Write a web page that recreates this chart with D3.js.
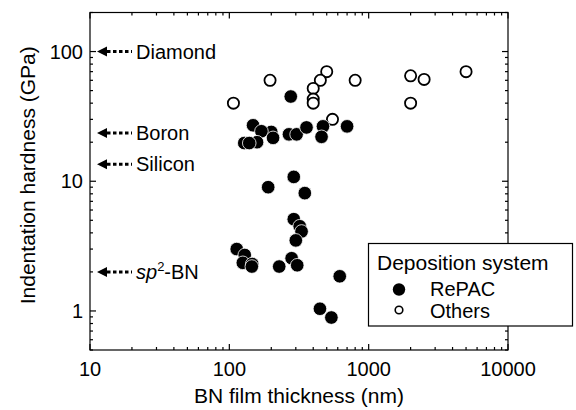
<!DOCTYPE html>
<html lang="en">
  <head>
    <meta charset="UTF-8" />
    <title>BN film hardness vs thickness</title>
    <script src="https://d3js.org/d3.v7.min.js"></script>
    <style>
      body { margin: 0; background: #fff; }
      text { font-family: 'Liberation Sans', Arial, sans-serif; fill: #000; }
    </style>
  </head>
  <body>
    <div id="chart"></div>

    <script>
      // RePAC deposition system
      const repacThickness = [276, 148, 200, 170, 206, 158, 128, 139, 268, 304, 358, 470, 459, 700,
        290, 190, 348, 290, 320, 330, 300, 113, 129, 125, 146, 145, 228, 280, 307, 447, 540, 620];
      const repacHardness = [45, 27, 24, 24.3, 21.6, 20, 19.7, 19.7, 23, 23, 26, 26.5, 22, 26.5,
        10.8, 9, 8.1, 5.1, 4.5, 4.1, 3.5, 3.0, 2.7, 2.35, 2.3, 2.2, 2.2, 2.55, 2.25, 1.04, 0.89, 1.85];

      // other deposition systems
      const othersThickness = [107, 196, 500, 450, 400, 400, 400, 550, 800, 2000, 2500, 2000, 5000];
      const othersHardness = [40, 60, 70, 60, 52, 43, 40, 30, 60, 65, 61, 40, 70];

      // reference materials (arrows on the left)
      const refNames = ['Diamond', 'Boron', 'Silicon', 'sp2-BN'];
      const refHardness = [100, 23.5, 13.5, 2];

      const xTicks = [10, 100, 1000, 10000];
      const yTicks = [1, 10, 100];

      const width = 576;
      const height = 410;
      const margin = { top: 12.5, right: 68, bottom: 60, left: 90 };

      const svg = d3
        .select('#chart')
        .append('svg')
        .attr('width', width)
        .attr('height', height);

      const x = d3
        .scaleLog()
        .domain([10, 10000])
        .range([margin.left, width - margin.right]);
      const y = d3
        .scaleLog()
        .domain([0.5, 200])
        .range([height - margin.bottom, margin.top]);

      const x0 = x.range()[0], x1 = x.range()[1];
      const y0 = y.range()[0], y1 = y.range()[1];

      // minor ticks from the log scale
      const xMinor = x.ticks().filter((d) => !xTicks.includes(d));
      const yMinor = y.ticks().filter((d) => !yTicks.includes(d));

      const axes = svg.append('g').attr('stroke', '#000').attr('stroke-width', 1.2);

      // frame
      axes.append('rect')
        .attr('x', x0).attr('y', y1)
        .attr('width', x1 - x0).attr('height', y0 - y1)
        .attr('fill', 'none');

      function xTick(v, len) {
        axes.append('line').attr('x1', x(v)).attr('x2', x(v)).attr('y1', y0).attr('y2', y0 - len);
        axes.append('line').attr('x1', x(v)).attr('x2', x(v)).attr('y1', y1).attr('y2', y1 + len);
      }
      function yTick(v, len) {
        axes.append('line').attr('y1', y(v)).attr('y2', y(v)).attr('x1', x0).attr('x2', x0 + len);
        axes.append('line').attr('y1', y(v)).attr('y2', y(v)).attr('x1', x1).attr('x2', x1 - len);
      }
      xTicks.forEach((v) => xTick(v, 6));
      xMinor.forEach((v) => xTick(v, 3));
      yTicks.forEach((v) => yTick(v, 6));
      yMinor.forEach((v) => yTick(v, 3));

      svg.append('g')
        .selectAll('text')
        .data(xTicks)
        .enter()
        .append('text')
        .attr('x', (d) => x(d))
        .attr('y', 376)
        .attr('text-anchor', 'middle')
        .attr('font-size', 20)
        .text((d) => d);

      svg.append('g')
        .selectAll('text')
        .data(yTicks)
        .enter()
        .append('text')
        .attr('x', 83)
        .attr('y', (d) => y(d) + 7)
        .attr('text-anchor', 'end')
        .attr('font-size', 20)
        .text((d) => d);

      svg.append('text')
        .attr('x', (x0 + x1) / 2)
        .attr('y', 403)
        .attr('text-anchor', 'middle')
        .attr('font-size', 21)
        .text('BN film thickness (nm)');

      svg.append('text')
        .attr('transform', `translate(35,${(y0 + y1) / 2 - 6}) rotate(-90)`)
        .attr('text-anchor', 'middle')
        .attr('font-size', 21)
        .text('Indentation hardness (GPa)');

      // reference arrows
      const refs = svg.append('g')
        .selectAll('g')
        .data(refNames.map((n, i) => ({ name: n, h: refHardness[i] })))
        .enter()
        .append('g')
        .attr('transform', (d) => `translate(0,${y(d.h)})`);

      refs.append('path')
        .attr('d', 'M97,0 L107,-5 L107,5 Z')
        .attr('fill', '#000');
      refs.append('line')
        .attr('x1', 107).attr('x2', 132)
        .attr('y1', 0).attr('y2', 0)
        .attr('stroke', '#000')
        .attr('stroke-width', 3)
        .attr('stroke-dasharray', '3.5,2.5');

      const refText = refs.append('text')
        .attr('x', 136)
        .attr('y', 7)
        .attr('font-size', 20);
      refText.each(function (d) {
        const t = d3.select(this);
        if (d.name === 'sp2-BN') {
          t.append('tspan').attr('font-style', 'italic').text('sp');
          t.append('tspan').attr('font-size', 13).attr('dy', -8).text('2');
          t.append('tspan').attr('dy', 8).text('-BN');
        } else {
          t.text(d.name);
        }
      });

      // data
      const others = othersThickness.map((t, i) => ({ t, h: othersHardness[i] }));
      const repac = repacThickness.map((t, i) => ({ t, h: repacHardness[i] }));

      svg.append('g')
        .selectAll('circle')
        .data(others)
        .enter()
        .append('circle')
        .attr('cx', (d) => x(d.t))
        .attr('cy', (d) => y(d.h))
        .attr('r', 5.6)
        .attr('fill', '#fff')
        .attr('stroke', '#000')
        .attr('stroke-width', 1.8);

      svg.append('g')
        .selectAll('circle')
        .data(repac)
        .enter()
        .append('circle')
        .attr('cx', (d) => x(d.t))
        .attr('cy', (d) => y(d.h))
        .attr('r', 6.8)
        .attr('fill', '#000')
        .attr('stroke', '#fff')
        .attr('stroke-width', 0.8);

      // legend
      const legend = svg.append('g');
      legend.append('rect')
        .attr('x', 368.5).attr('y', 243.5)
        .attr('width', 204).attr('height', 82.5)
        .attr('fill', '#fff')
        .attr('stroke', '#000')
        .attr('stroke-width', 1.2);
      legend.append('text')
        .attr('x', 377).attr('y', 270)
        .attr('font-size', 21)
        .text('Deposition system');
      legend.append('circle')
        .attr('cx', 399).attr('cy', 289.5).attr('r', 6.2)
        .attr('fill', '#000');
      legend.append('text')
        .attr('x', 430).attr('y', 295.5)
        .attr('font-size', 20)
        .text('RePAC');
      legend.append('circle')
        .attr('cx', 399).attr('cy', 310).attr('r', 3.8)
        .attr('fill', '#fff')
        .attr('stroke', '#000')
        .attr('stroke-width', 1.6);
      legend.append('text')
        .attr('x', 430).attr('y', 318)
        .attr('font-size', 20)
        .text('Others');
    </script>
  </body>
</html>
